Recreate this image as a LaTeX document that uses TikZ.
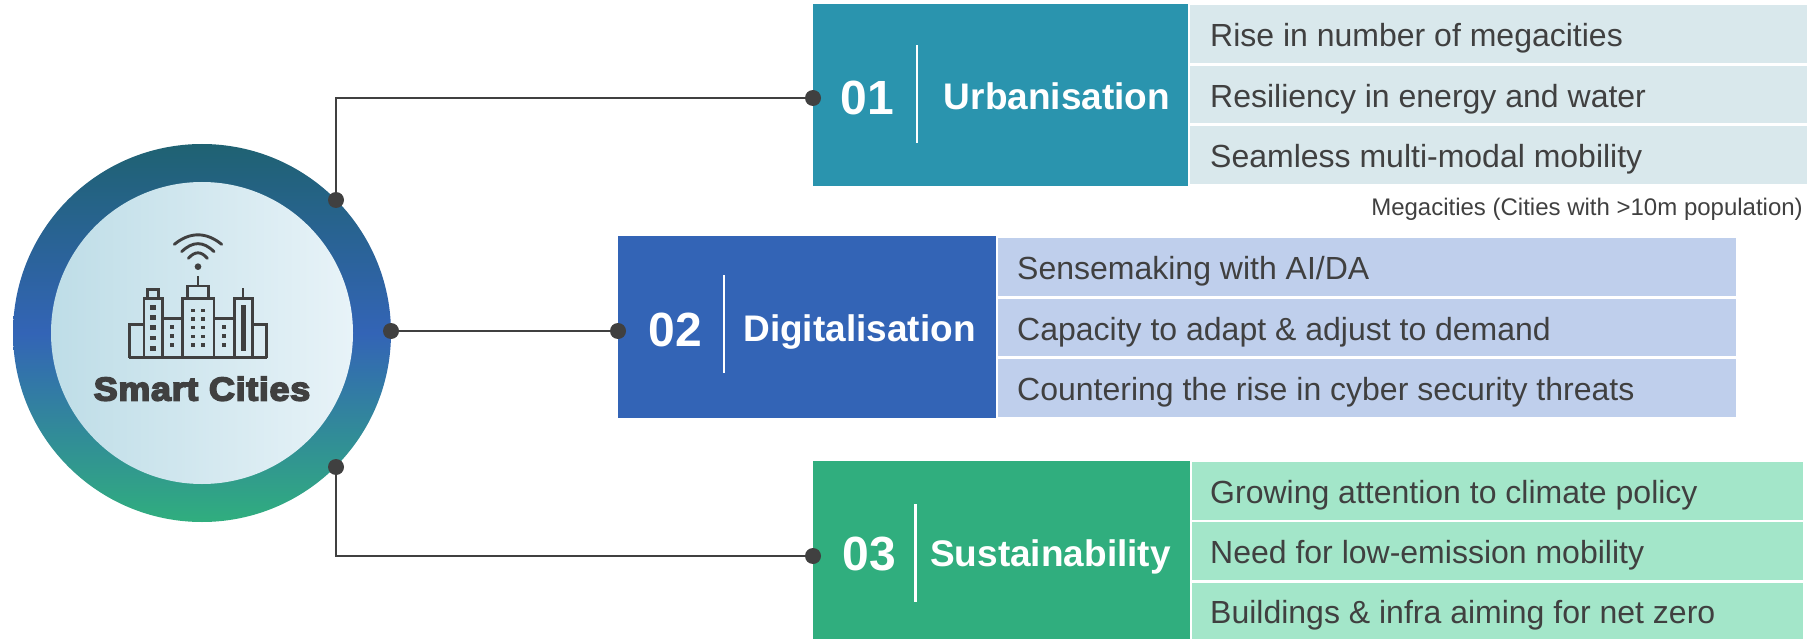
\documentclass[tikz,border=0pt]{standalone}
\usepackage{fontspec}
\setmainfont{Liberation Sans}
\newfontfamily\blackfont[UprightFont=* Bold,FakeBold=5,FakeStretch=1.09,LetterSpace=2]{Liberation Sans}
\definecolor{inktext}{HTML}{404040}
\definecolor{ringtop}{HTML}{1F6272}
\definecolor{ringmid}{HTML}{3364B6}
\definecolor{ringbot}{HTML}{30AE7E}
\definecolor{innerL}{HTML}{BEDDE7}
\definecolor{innerR}{HTML}{E8F3F8}
\definecolor{boxA}{HTML}{2A94AE}
\definecolor{boxB}{HTML}{3364B6}
\definecolor{boxC}{HTML}{30AE7E}
\definecolor{rowA}{HTML}{D9E8EC}
\definecolor{rowB}{HTML}{BFCFEC}
\definecolor{rowC}{HTML}{A3E6C9}
\tikzset{
  hubdot/.style={circle,fill=inktext,minimum size=16pt,inner sep=0pt},
  conn/.style={draw=inktext,line width=2.9pt},
  headbox/.style={rectangle,anchor=north west,inner sep=0pt},
  rowbox/.style={rectangle,anchor=west,text=inktext,
    font=\fontsize{32}{36}\selectfont,text height=25.5pt,text depth=0pt,
    execute at begin node={\spaceskip=0pt\xspaceskip=0pt\relax}},
  numtext/.style={text=white,inner sep=0pt,font=\fontsize{48}{50}\selectfont\bfseries,text height=34pt,text depth=0pt},
  headtext/.style={text=white,inner sep=0pt,font=\fontsize{37}{40}\selectfont\bfseries,text height=26.5pt,text depth=0pt},
  divider/.style={draw=white,line width=2.6pt},
  icon/.style={draw=inktext,line width=2.9pt,line join=miter},
  iconfill/.style={fill=inktext,draw=none},
}
\begin{document}
\begin{tikzpicture}[x=1pt,y=-1pt]
\useasboundingbox (0,0) rectangle (1820,639);

\coordinate (hubC) at (202,333);
\node[circle,inner sep=0pt,minimum size=378pt,top color=ringtop,bottom color=ringbot,middle color=ringmid] (ring) at (hubC) {};
\node[circle,inner sep=0pt,minimum size=302pt,left color=innerL,right color=innerR] (hub) at (hubC) {};

% head boxes
\node[headbox,fill=boxA,minimum width=375pt,minimum height=182pt] (boxU) at (813,4) {};
\node[headbox,fill=boxB,minimum width=378pt,minimum height=182pt] (boxD) at (618,236) {};
\node[headbox,fill=boxC,minimum width=377pt,minimum height=178pt] (boxS) at (813,461) {};

% dots
\node[hubdot] (dA) at (336,200) {};
\node[hubdot] (dB) at (391,331) {};
\node[hubdot] (dC) at (336,467) {};
\node[hubdot] (eA) at (813,98) {};
\node[hubdot] (eB) at (618,331) {};
\node[hubdot] (eC) at (813,556) {};

% connectors
\draw[conn] (dA.center) |- (eA.center);
\draw[conn] (dB.center) -- (eB.center);
\draw[conn] (dC.center) |- (eC.center);

% numbers and titles
\node[numtext] (nU) at (867,97.5) {01};
\node[numtext] (nD) at (675,329) {02};
\node[numtext] (nS) at (869,553) {03};
\node[headtext] (tU) at (1057,96) {Urbanisation};
\node[headtext] (tD) at (859.5,328.5) {Digitalisation};
\node[headtext] (tS) at (1050.5,553) {Sustainability};
\draw[divider] (917,45) -- (917,143);
\draw[divider] (724,275) -- (724,373);
\draw[divider] (915.5,504) -- (915.5,602);

% rows
\tikzset{rowU/.style={rowbox,fill=rowA,inner xsep=20pt,text width=577pt}}
\node[rowU,minimum height=58pt] (u1) at (1190,34) {Rise in number of megacities};
\node[rowU,minimum height=57pt] (u2) at (1190,94.5) {Resiliency in energy and water};
\node[rowU,minimum height=58pt] (u3) at (1190,155) {Seamless multi-modal mobility};
\tikzset{rowD/.style={rowbox,fill=rowB,inner xsep=19pt,text width=700pt}}
\node[rowD,minimum height=58pt] (d1) at (998,267) {Sensemaking with AI/DA};
\node[rowD,minimum height=57pt] (d2) at (998,327.5) {Capacity to adapt \& adjust to demand};
\node[rowD,minimum height=58pt] (d3) at (998,388) {Countering the rise in cyber security threats};
\tikzset{rowS/.style={rowbox,fill=rowC,inner xsep=18pt,text width=575pt}}
\node[rowS,minimum height=58pt] (s1) at (1192,490.5) {Growing attention to climate policy};
\node[rowS,minimum height=58pt] (s2) at (1192,551) {Need for low-emission mobility};
\node[rowS,minimum height=56pt] (s3) at (1192,611) {Buildings \& infra aiming for net zero};

\node[anchor=base east,inner sep=0pt,text=inktext,font=\fontsize{24}{28}\selectfont] (note) at (1803,215) {Megacities (Cities with >10m population)};

% title in hub
\node[inner sep=0pt,text=inktext,font=\fontsize{33}{36}\blackfont\selectfont,text height=24pt,text depth=0pt] (hubT) at (202,388.5) {Smart Cities};

% city icon, in coordinates of a 3x crop at (0,130)
\begin{scope}[x=0.33333pt,y=-0.33333pt,yshift=-130pt]
  \draw[icon] (388,683) -- (800,683);
  \draw[icon] (388,683) -- (388,583) -- (432,583);
  \draw[icon] (800,683) -- (800,583) -- (758,583);
  \draw[icon] (432,683) rectangle (487,505);
  \draw[icon] (443,505) rectangle (475,478);
  \draw[icon] (487,565) -- (547,565);
  \draw[icon] (547,683) rectangle (642,505);
  \draw[icon] (563,505) rectangle (625,468);
  \draw[icon] (594,468) -- (594,438);
  \draw[icon] (642,565) -- (703,565);
  \draw[icon] (703,683) rectangle (758,505);
  \draw[icon] (729,505) -- (729,473);
  \fill[iconfill] (722,525) rectangle (737,662);
  \foreach \wy in {532,563,593,624,655}
    \fill[iconfill] (451,\wy-7) rectangle (467,\wy+7);
  \foreach \wx in {516,672}
    \foreach \wy in {592,619,645}
      \fill[iconfill] (\wx-5,\wy-6) rectangle (\wx+5,\wy+6);
  \foreach \wx in {578,608}
    \foreach \wy in {541,567,593,619,645}
      \fill[iconfill] (\wx-6,\wy-5) rectangle (\wx+6,\wy+5);
  \fill[iconfill] (594,410) circle[radius=10];
  \draw[icon,line cap=round] (523,343) .. controls (570,305) and (618,305) .. (665,343);
  \draw[icon,line cap=round] (545,365) .. controls (578,333) and (610,333) .. (642,365);
  \draw[icon,line cap=round] (565,385) .. controls (585,363) and (603,363) .. (622,385);
\end{scope}
\end{tikzpicture}
\end{document}
